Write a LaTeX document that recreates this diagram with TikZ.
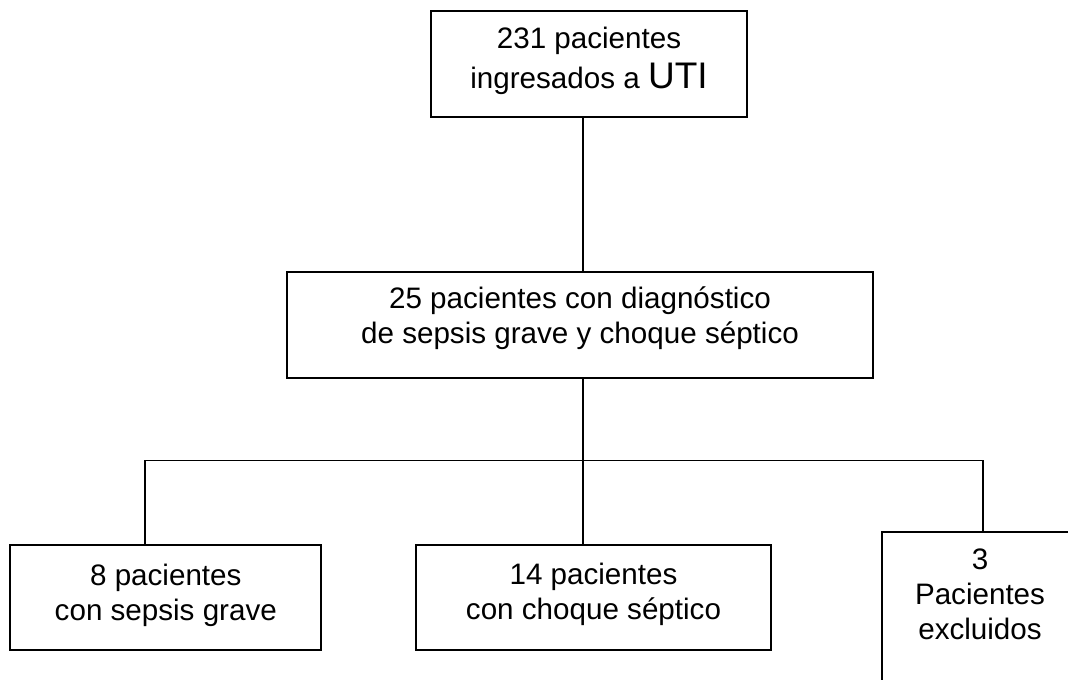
\documentclass[tikz,border=0pt]{standalone}
\usepackage{fontspec}
\setmainfont{Liberation Sans}
\usepackage{tikz}
\usetikzlibrary{positioning}

\begin{document}
\begin{tikzpicture}[
    x=0.5pt, y=-0.5pt,
    caja/.style={rectangle, draw, line width=0.85pt, align=center, inner sep=0pt, minimum width=158pt, minimum height=53pt, font=\fontsize{14.8}{17.5}\selectfont},
    linea/.style={line width=0.85pt}
]
    \useasboundingbox (0,0) rectangle (1068,679);
    \node [caja, text depth=6.5pt] at (589,64) (ingreso) {231 pacientes\\[2.5pt]ingresados a {\fontsize{18.5}{20}\selectfont UTI}};
    \node [caja, minimum width=293pt, text depth=10pt, below=76.5pt of ingreso, xshift=-4.5pt] (diagnostico) {25 pacientes con diagnóstico\\de sepsis grave y choque séptico};
    \node [caja, minimum width=177.5pt, minimum height=52.5pt, text depth=6pt, below=82.75pt of diagnostico, xshift=6.75pt] (choque) {14 pacientes\\con choque séptico};
    \node [caja, minimum width=155.5pt, minimum height=52.5pt, text depth=5pt, left=46.5pt of choque] (sepsis) {8 pacientes\\con sepsis grave};
    \node [caja, minimum width=98pt, minimum height=0pt, inner ysep=8.5pt, text depth=70pt, anchor=north] at (980,531) (excluidos) {3\\Pacientes\\excluidos};
    \coordinate (rama) at ([xshift=1.5pt, yshift=-41pt]diagnostico.south);
    \draw [linea] ([xshift=-3pt]ingreso.south) -- ([xshift=1.5pt]diagnostico.north);
    \draw [linea] ([xshift=1.5pt]diagnostico.south) -- (rama);
    \draw [linea] ([xshift=-10.5pt]sepsis.north) |- (rama) -| ([xshift=1.5pt]excluidos.north);
    \draw [linea] (rama) -- (rama |- choque.north);
\end{tikzpicture}
\end{document}
